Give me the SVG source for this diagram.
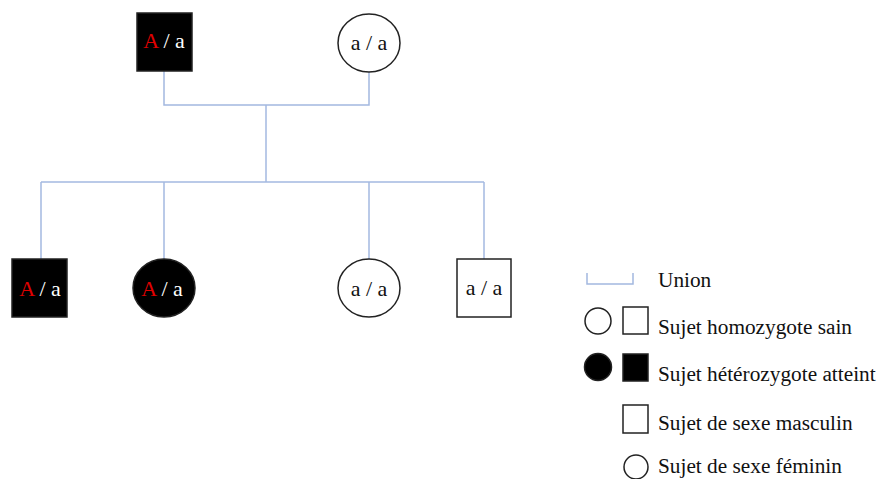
<svg xmlns="http://www.w3.org/2000/svg" width="880" height="479" viewBox="0 0 880 479">
<style>
.ln{fill:none;stroke:#a3b8e0;stroke-width:1.5}
.sh{stroke:#222;stroke-width:1.5}
.af{fill:#000}
.wf{fill:#fff}
.g{font-family:"Liberation Serif","Times New Roman",serif;font-size:22px;text-anchor:middle}
.lg{font-family:"Liberation Serif","Times New Roman",serif;font-size:21.3px}
.red{fill:#e00000}
.wt{fill:#fff}
.bt{fill:#111}
</style>
<rect width="880" height="479" fill="#fff"/>
<g id="connectors">
<polyline class="ln" points="164,71 164,105 369,105 369,72"/>
<line class="ln" x1="266" y1="105" x2="266" y2="182"/>
<line class="ln" x1="41" y1="182" x2="484" y2="182"/>
<line class="ln" x1="41" y1="182" x2="41" y2="259"/>
<line class="ln" x1="164" y1="182" x2="164" y2="259"/>
<line class="ln" x1="369" y1="182" x2="369" y2="259"/>
<line class="ln" x1="484" y1="182" x2="484" y2="259"/>
</g>
<g id="father">
<rect class="sh af" x="137" y="13" width="55" height="58"/>
<text class="g" x="164" y="48"><tspan class="red">A</tspan><tspan class="wt"> / a</tspan></text>
</g>
<g id="mother">
<ellipse class="sh wf" cx="369" cy="43" rx="31" ry="29"/>
<text class="g bt" x="369" y="50">a / a</text>
</g>
<g id="child1">
<rect class="sh af" x="12" y="259" width="55" height="58"/>
<text class="g" x="40" y="296"><tspan class="red">A</tspan><tspan class="wt"> / a</tspan></text>
</g>
<g id="child2">
<ellipse class="sh af" cx="164" cy="288" rx="31" ry="29"/>
<text class="g" x="162" y="296"><tspan class="red">A</tspan><tspan class="wt"> / a</tspan></text>
</g>
<g id="child3">
<ellipse class="sh wf" cx="369" cy="288" rx="31" ry="29"/>
<text class="g bt" x="369" y="296">a / a</text>
</g>
<g id="child4">
<rect class="sh wf" x="457" y="259" width="54" height="58"/>
<text class="g bt" x="484" y="295">a / a</text>
</g>
<g id="legend">
<polyline class="ln" points="587,273 587,284 633,284 633,273"/>
<text class="lg bt" x="658" y="287">Union</text>
<circle class="sh wf" cx="598" cy="321" r="13"/>
<rect class="sh wf" x="623" y="307" width="25" height="27"/>
<text class="lg bt" x="658" y="334">Sujet homozygote sain</text>
<circle class="sh af" cx="598" cy="367" r="13.5"/>
<rect class="sh af" x="623" y="354" width="25" height="27"/>
<text class="lg bt" x="658" y="381">Sujet hétérozygote atteint</text>
<rect class="sh wf" x="623" y="405" width="25" height="28"/>
<text class="lg bt" x="658" y="430">Sujet de sexe masculin</text>
<circle class="sh wf" cx="636" cy="467" r="12"/>
<text class="lg bt" x="658" y="473">Sujet de sexe féminin</text>
</g>
</svg>
